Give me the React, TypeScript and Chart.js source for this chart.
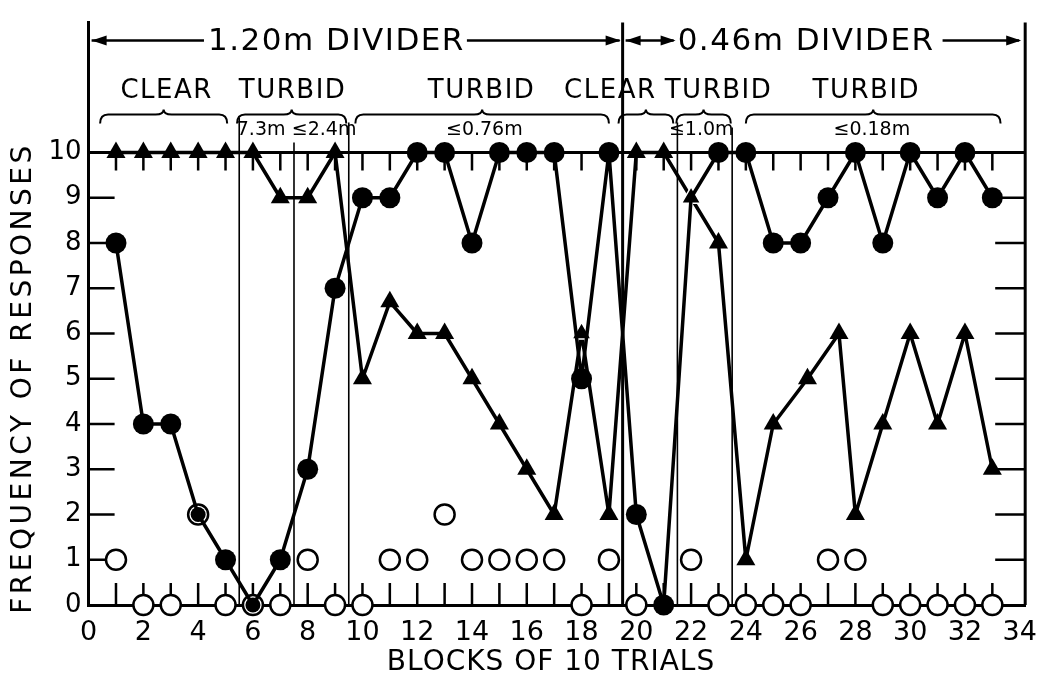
import React, { useEffect, useRef } from 'react';
import { Chart, registerables } from 'chart.js';

Chart.register(...registerables);

// ---------------- data ----------------
const blocks = [1, 2, 3, 4, 5, 6, 7, 8, 9, 10, 11, 12, 13, 14, 15, 16, 17, 18, 19, 20, 21, 22, 23, 24, 25, 26, 27, 28, 29, 30, 31, 32, 33];
// filled circles (joined by a line)
const filledCircleValues = [8, 4, 4, 2, 1, 0, 1, 3, 7, 9, 9, 10, 10, 8, 10, 10, 10, 5, 10, 2, 0, 9, 10, 10, 8, 8, 9, 10, 8, 10, 9, 10, 9];
// filled triangles (joined by a line)
const triangleBlocks = [1, 2, 3, 4, 5, 6, 7, 8, 9, 10, 11, 12, 13, 14, 15, 16, 17, 18, 19, 20, 21, 22, 23, 24, 25, 26.25, 27.4, 28, 29, 30, 31, 32, 33];
const triangleValues = [10, 10, 10, 10, 10, 10, 9, 9, 10, 5, 6.7, 6, 6, 5, 4, 3, 2, 6, 2, 10, 10, 9, 8, 1, 4, 5, 6, 2, 4, 6, 4, 6, 3];
// open circles (no line)
const openCircleValues = [1, 0, 0, 2, 0, 0, 0, 1, 0, 0, 1, 1, 2, 1, 1, 1, 1, 0, 1, 0, null, 1, 0, 0, 0, 0, 1, 1, 0, 0, 0, 0, 0];

const xTickValues = [0, 2, 4, 6, 8, 10, 12, 14, 16, 18, 20, 22, 24, 26, 28, 30, 32, 34];
const yTickValues = [0, 1, 2, 3, 4, 5, 6, 7, 8, 9, 10];
const minorTickBlocks = blocks;

const xTitle = 'BLOCKS OF 10 TRIALS';
const yTitle = 'FREQUENCY OF RESPONSES';

// phase annotations (in block units)
const phaseBoundaries = [5.5, 7.5, 9.5, 21.5, 23.5];
const dividerBoundary = 19.5;
const dividerLabels = ['1.20m DIVIDER', '0.46m DIVIDER'];
const dividerCenters = [9.05, 26.2];
const conditionLabels = ['CLEAR', 'TURBID', 'TURBID', 'CLEAR', 'TURBID', 'TURBID'];
const conditionCenters = [2.85, 7.45, 14.35, 19.05, 23.0, 28.4];
const braceStarts = [0.42, 5.42, 9.74, 19.35, 21.46, 24.0];
const braceEnds = [5.06, 9.41, 19.0, 21.35, 23.45, 33.3];
const distanceLabels = ['7.3m', '≤2.4m', '≤0.76m', '≤1.0m', '≤0.18m'];
const distanceCenters = [6.3, 8.6, 14.45, 22.37, 28.6];

// ---------------- styling ----------------
const FONT = '"DejaVu Sans", "Liberation Sans", sans-serif';
const boundaryTopOffsets = [35, 10, 30, 30, 25];

function arrowHead(ctx: CanvasRenderingContext2D, x: number, y: number, dir: number) {
  const len = 15, half = 5;
  ctx.beginPath();
  ctx.moveTo(x, y);
  ctx.lineTo(x - dir * len, y - half);
  ctx.lineTo(x - dir * len, y + half);
  ctx.closePath();
  ctx.fill();
}

function hLine(ctx: CanvasRenderingContext2D, x1: number, x2: number, y: number) {
  ctx.beginPath();
  ctx.moveTo(x1, y);
  ctx.lineTo(x2, y);
  ctx.stroke();
}

function brace(ctx: CanvasRenderingContext2D, x1: number, x2: number, y: number) {
  const h = 14, r = 8;
  const ly = y + 5;
  const mid = (x1 + x2) / 2;
  ctx.beginPath();
  ctx.moveTo(x1, y + h);
  ctx.quadraticCurveTo(x1, ly, x1 + r, ly);
  ctx.lineTo(mid - r, ly);
  ctx.quadraticCurveTo(mid, ly, mid, y);
  ctx.quadraticCurveTo(mid, ly, mid + r, ly);
  ctx.lineTo(x2 - r, ly);
  ctx.quadraticCurveTo(x2, ly, x2, y + h);
  ctx.stroke();
}

const decorPlugin = {
  id: 'figureDecor',
  beforeDatasetsDraw(chart: any) {
    const { ctx, chartArea: ca, scales } = chart;
    const xs = scales.x, ys = scales.y;
    const y0 = ys.getPixelForValue(0);
    const y10 = ys.getPixelForValue(10);
    ctx.save();
    ctx.strokeStyle = '#000';
    ctx.fillStyle = '#000';
    // thin phase boundaries
    ctx.lineWidth = 1.6;
    phaseBoundaries.forEach((b, i) => {
      const px = xs.getPixelForValue(b);
      ctx.beginPath();
      ctx.moveTo(px, y10 - boundaryTopOffsets[i]);
      ctx.lineTo(px, y0);
      ctx.stroke();
    });
    // divider change
    ctx.lineWidth = 3;
    const dx = xs.getPixelForValue(dividerBoundary);
    ctx.beginPath();
    ctx.moveTo(dx, ca.top);
    ctx.lineTo(dx, y0);
    ctx.stroke();
    // right frame
    ctx.beginPath();
    ctx.moveTo(ca.right, ca.top);
    ctx.lineTo(ca.right, y0);
    ctx.stroke();
    // line at 10
    hLine(ctx, ca.left, ca.right, y10);
    // inward ticks
    ctx.lineWidth = 2.5;
    minorTickBlocks.forEach((b) => {
      const px = xs.getPixelForValue(b);
      ctx.beginPath();
      ctx.moveTo(px, y0);
      ctx.lineTo(px, y0 - 22);
      ctx.moveTo(px, y10);
      ctx.lineTo(px, y10 + 18);
      ctx.stroke();
    });
    yTickValues.forEach((v) => {
      if (v === 0) return;
      const py = ys.getPixelForValue(v);
      ctx.beginPath();
      ctx.moveTo(ca.left, py);
      ctx.lineTo(ca.left + 26, py);
      if (v < 10) {
        ctx.moveTo(ca.right, py);
        ctx.lineTo(ca.right - 30, py);
      }
      ctx.stroke();
    });
    ctx.restore();
  },
  afterDraw(chart: any) {
    const { ctx, chartArea: ca, scales } = chart;
    const xs = scales.x;
    ctx.save();
    ctx.strokeStyle = '#000';
    ctx.fillStyle = '#000';
    ctx.textAlign = 'center';
    ctx.textBaseline = 'middle';

    // header: dividers with arrows
    const hy = ca.top + 18;
    ctx.font = `31px ${FONT}`;
    (ctx as any).letterSpacing = '1.5px';
    const dx = xs.getPixelForValue(dividerBoundary);
    const c1 = xs.getPixelForValue(dividerCenters[0]);
    const c2 = xs.getPixelForValue(dividerCenters[1]);
    const w1 = ctx.measureText(dividerLabels[0]).width;
    const w2 = ctx.measureText(dividerLabels[1]).width;
    ctx.fillText(dividerLabels[0], c1, hy + 1);
    ctx.fillText(dividerLabels[1], c2, hy + 1);
    ctx.lineWidth = 2.5;
    hLine(ctx, ca.left + 3, c1 - w1 / 2 - 4, hy);
    arrowHead(ctx, ca.left + 3, hy, -1);
    hLine(ctx, c1 + w1 / 2 + 2, dx - 3, hy);
    arrowHead(ctx, dx - 2, hy, 1);
    hLine(ctx, dx + 3, c2 - w2 / 2 - 4, hy);
    arrowHead(ctx, dx + 3, hy, -1);
    arrowHead(ctx, c2 - w2 / 2 - 2, hy, 1);
    hLine(ctx, c2 + w2 / 2 + 8, ca.right - 6, hy);
    arrowHead(ctx, ca.right - 4, hy, 1);

    // condition labels
    ctx.font = `26px ${FONT}`;
    (ctx as any).letterSpacing = '1.5px';
    conditionLabels.forEach((t, i) => {
      ctx.fillText(t, xs.getPixelForValue(conditionCenters[i]), ca.top + 69);
    });
    // braces
    ctx.lineWidth = 2;
    braceStarts.forEach((s, i) => {
      brace(ctx, xs.getPixelForValue(s), xs.getPixelForValue(braceEnds[i]), ca.top + 87);
    });
    // distance labels
    ctx.font = `19px ${FONT}`;
    (ctx as any).letterSpacing = '0px';
    distanceLabels.forEach((t, i) => {
      ctx.fillText(t, xs.getPixelForValue(distanceCenters[i]), ca.top + 107);
    });

    // axis titles
    ctx.font = `28px ${FONT}`;
    (ctx as any).letterSpacing = '1px';
    ctx.fillText(xTitle, 551, 663);
    ctx.save();
    ctx.translate(24, 378);
    ctx.rotate(-Math.PI / 2);
    (ctx as any).letterSpacing = '3.5px';
    ctx.fillText(yTitle, 0, 0);
    ctx.restore();
    ctx.restore();
  },
};

export default function App() {
  const canvasRef = useRef<HTMLCanvasElement | null>(null);

  useEffect(() => {
    if (!canvasRef.current) return;
    const filledRadius = blocks.map((b) => (b === 22 ? 0 : b === 4 || b === 6 ? 7.5 : 10.5));
    const triBorderColor = triangleBlocks.map((b) => (b === 18 || b === 22 ? '#fff' : '#000'));
    const triBorderWidth = triangleBlocks.map((b) => (b === 18 || b === 22 ? 1.5 : 0));

    const chart = new Chart(canvasRef.current, {
      type: 'line',
      data: {
        datasets: [
          {
            label: 'filled circles',
            data: blocks.map((b, i) => ({ x: b, y: filledCircleValues[i] })),
            borderColor: '#000',
            borderWidth: 3.5,
            backgroundColor: '#000',
            pointStyle: 'circle',
            pointRadius: filledRadius,
            pointBackgroundColor: '#000',
            pointBorderColor: '#000',
            pointBorderWidth: 0,
            tension: 0,
            clip: false as any,
          },
          {
            label: 'triangles',
            data: triangleBlocks.map((b, i) => ({ x: b, y: triangleValues[i] })),
            borderColor: '#000',
            borderWidth: 3.5,
            backgroundColor: '#000',
            pointStyle: 'triangle',
            pointRadius: 11,
            pointBackgroundColor: '#000',
            pointBorderColor: triBorderColor,
            pointBorderWidth: triBorderWidth,
            tension: 0,
            clip: false as any,
          },
          {
            label: 'open circles',
            data: blocks
              .map((b, i) => ({ x: b, y: openCircleValues[i] }))
              .filter((p) => p.y !== null) as any,
            showLine: false,
            pointStyle: 'circle',
            pointRadius: 10,
            pointBackgroundColor: '#fff',
            pointBorderColor: '#000',
            pointBorderWidth: 2.5,
            clip: false as any,
          },
        ],
      },
      options: {
        animation: false,
        responsive: true,
        maintainAspectRatio: false,
        layout: { padding: { top: 13, right: 18, left: 0, bottom: 0 } },
        plugins: {
          legend: { display: false },
          tooltip: { enabled: false },
          title: { display: false },
        },
        elements: { line: { borderJoinStyle: 'round' } },
        scales: {
          x: {
            type: 'linear',
            min: 0,
            max: 34.2,
            afterBuildTicks: (scale: any) => {
              scale.ticks = xTickValues.map((v) => ({ value: v }));
            },
            afterFit: (scale: any) => {
              scale.height = 78;
            },
            ticks: {
              autoSkip: false,
              maxRotation: 0,
              padding: 12,
              color: '#000',
              font: { family: FONT, size: 27 },
            },
            grid: { display: false, drawTicks: false },
            border: { display: true, color: '#000', width: 3 },
          },
          y: {
            type: 'linear',
            min: 0,
            max: 12.87,
            afterBuildTicks: (scale: any) => {
              scale.ticks = yTickValues.map((v) => ({ value: v }));
            },
            afterFit: (scale: any) => {
              scale.width = 88.6;
            },
            ticks: {
              padding: 7,
              color: '#000',
              font: { family: FONT, size: 26 },
            },
            grid: { display: false, drawTicks: false },
            border: { display: true, color: '#000', width: 3 },
          },
        },
      },
      plugins: [decorPlugin],
    });
    return () => chart.destroy();
  }, []);

  return (
    <div style={{ position: 'absolute', left: 0, top: 0, width: 1049, height: 683, background: '#fff' }}>
      <canvas ref={canvasRef} />
    </div>
  );
}
